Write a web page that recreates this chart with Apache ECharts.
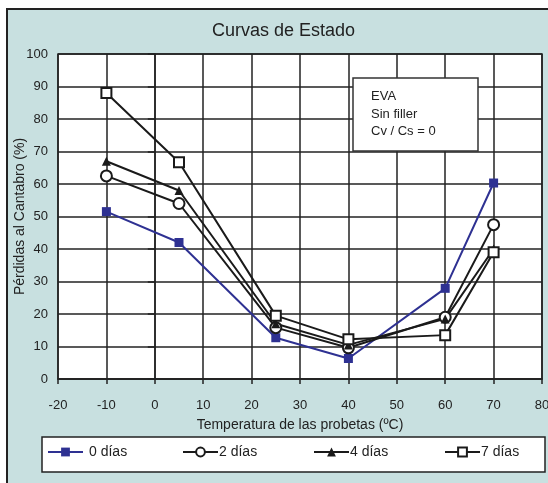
<!DOCTYPE html>
<html>
<head>
<meta charset="utf-8">
<script src="https://cdn.jsdelivr.net/npm/echarts@6/dist/echarts.min.js"></script>
<style>
  body { margin: 0; background: #fff; }
  #frame { position: absolute; left: 6px; top: 8px; width: 560px; height: 500px;
           background: #c8e0e0; border: 2px solid #222; }
  #chart { position: absolute; left: 0; top: 0; width: 548px; height: 483px; }
</style>
</head>
<body>
<div id="frame"></div>
<div id="chart"></div>
<script>
// temperaturas (ºC)
var temps = [-10, 5, 25, 40, 60, 70];
var seriesNames = ['0 días', '2 días', '4 días', '7 días'];
var dias0 = [51.5, 42, 12.7, 6.3, 27.9, 60.3];
var dias2 = [62.5, 54, 15.8, 9.6, 19, 47.5];
var dias4 = [67, 58, 17, 10.5, 18.5, 40];
var dias7 = [88, 66.7, 19.5, 12.2, 13.5, 39];
var boxLines = ['EVA', 'Sin filler', 'Cv / Cs = 0'];

var font = "'Liberation Sans', Arial, sans-serif";

function pairs (vals) {
  return temps.map(function (t, i) { return [t, vals[i]] });
}

var chart = echarts.init(document.getElementById('chart'));

var option = {
  backgroundColor: 'transparent',
  animation: false,
  textStyle: { fontFamily: font },
  title: {
    text: 'Curvas de Estado',
    left: 207,
    top: 17,
    textStyle: { fontSize: 18, fontWeight: 'normal', color: '#222', fontFamily: font }
  },
  grid: {
    left: 58, right: 6, top: 54, bottom: 104,
    outerBoundsMode: 'none', containLabel: false,
    show: true, backgroundColor: '#fff', borderColor: '#222', borderWidth: 1.5
  },
  xAxis: {
    type: 'value', min: -20, max: 80, interval: 10,
    name: 'Temperatura de las probetas (ºC)',
    nameLocation: 'middle', nameGap: 39, nameMoveOverlap: false,
    nameTextStyle: { fontSize: 14, color: '#222' },
    axisLine: { lineStyle: { color: '#222', width: 1.5 } },
    axisTick: { length: 5, lineStyle: { color: '#222', width: 1.5 } },
    axisLabel: { fontSize: 13, color: '#222', margin: 20 },
    splitLine: { lineStyle: { color: '#222', width: 1.5 } }
  },
  yAxis: {
    type: 'value', min: 0, max: 100, interval: 10,
    name: 'Pérdidas al Cantabro (%)',
    nameLocation: 'middle', nameGap: 31, nameMoveOverlap: false,
    nameTextStyle: { fontSize: 14, color: '#222' },
    axisLine: { lineStyle: { color: '#222', width: 1.5 } },
    axisTick: { length: 7, lineStyle: { color: '#222', width: 1.5 } },
    axisLabel: { fontSize: 13, color: '#222', margin: 10 },
    splitLine: { lineStyle: { color: '#222', width: 1.5 } }
  },
  legend: [47, 182, 313, 444].map(function (x, i) {
    return {
      data: [seriesNames[i]], left: x, top: 445, padding: 0,
      itemWidth: 35, itemHeight: 11, itemGap: 0,
      textStyle: { fontSize: 14, color: '#222', padding: [0, 0, 0, i === 0 ? 1 : -4] }
    };
  }),
  graphic: [
    {
      type: 'rect', z: 1, silent: true,
      shape: { x: 42, y: 437, width: 503, height: 35 },
      style: { fill: '#fff', stroke: '#222', lineWidth: 1.5 }
    },
    {
      type: 'rect', z: 100,
      shape: { x: 353, y: 78, width: 125, height: 73 },
      style: { fill: '#fff', stroke: '#333', lineWidth: 1.5 }
    },
    {
      type: 'text', z: 101, left: 371, top: 88,
      style: { text: boxLines.join('\n'), font: '13px ' + font, fill: '#222', lineHeight: 17.5 }
    }
  ],
  series: [
    {
      name: seriesNames[0], type: 'line', data: pairs(dias0), z: 3,
      symbol: 'rect', symbolSize: 9,
      itemStyle: { color: '#2e3192' },
      lineStyle: { color: '#2e3192', width: 2 }
    },
    {
      name: seriesNames[1], type: 'line', data: pairs(dias2),
      symbol: 'emptyCircle', symbolSize: 11,
      itemStyle: { color: '#1a1a1a', borderWidth: 1.5 },
      lineStyle: { color: '#1a1a1a', width: 2 }
    },
    {
      name: seriesNames[2], type: 'line', data: pairs(dias4),
      symbol: 'triangle', symbolSize: 9,
      itemStyle: { color: '#1a1a1a' },
      lineStyle: { color: '#1a1a1a', width: 2 }
    },
    {
      name: seriesNames[3], type: 'line', data: pairs(dias7),
      symbol: 'emptyRect', symbolSize: 10,
      itemStyle: { color: '#1a1a1a', borderWidth: 1.5 },
      lineStyle: { color: '#1a1a1a', width: 2 }
    }
  ]
};

chart.setOption(option);
</script>
</body>
</html>
